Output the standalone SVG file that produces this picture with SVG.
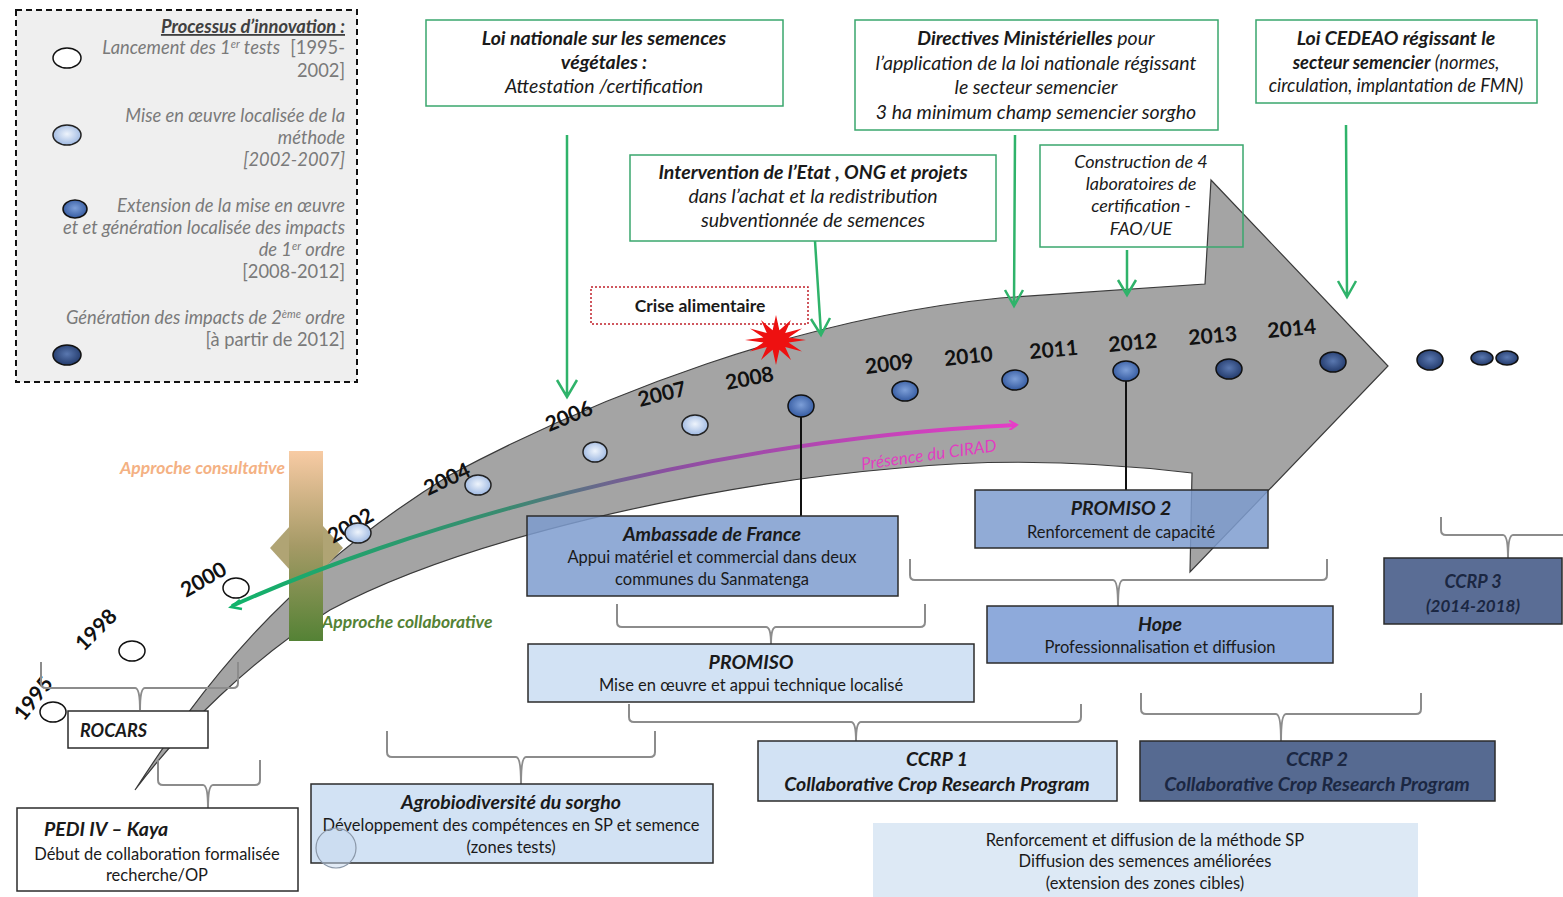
<svg xmlns="http://www.w3.org/2000/svg" width="1563" height="897" viewBox="0 0 1563 897">
<defs>
<style>
text{font-family:Lato,"Liberation Sans",sans-serif;}
.lg{font-size:18.3px;font-style:italic;fill:#7a7a7a;text-anchor:end;}
.lgn{font-size:18.3px;fill:#7a7a7a;text-anchor:end;}
.tb{fill:#fff;stroke:#3aa76d;stroke-width:1.5;}
.tt{font-size:19.5px;font-style:italic;fill:#1a1a1a;text-anchor:middle;}
.b{font-weight:bold;}
.yr{font-size:21px;font-weight:bold;fill:#111;}
.bx{stroke:#2b2b2b;stroke-width:1.5;}
.bt{font-size:16.5px;fill:#1a1a1a;text-anchor:middle;}
.bh{font-size:19.5px;font-weight:bold;font-style:italic;fill:#1a1a1a;text-anchor:middle;}
.br{fill:none;stroke:#8c8c8c;stroke-width:2;}
.ga{fill:none;stroke:#2fb36a;stroke-width:2.5;}
.d0{fill:#fff;stroke:#111;stroke-width:1.5;}
.d1{fill:url(#gl);stroke:#222;stroke-width:1.5;}
.d2{fill:url(#gm);stroke:#111;stroke-width:1.5;}
.d3{fill:url(#gd);stroke:#111;stroke-width:1.5;}
</style>
<radialGradient id="gl" cx="0.5" cy="0.45" r="0.6"><stop offset="0" stop-color="#eef4fc"/><stop offset="1" stop-color="#97b3df"/></radialGradient>
<radialGradient id="gm" cx="0.5" cy="0.45" r="0.6"><stop offset="0" stop-color="#7d9fd8"/><stop offset="1" stop-color="#2f559c"/></radialGradient>
<radialGradient id="gd" cx="0.5" cy="0.45" r="0.6"><stop offset="0" stop-color="#5a78b0"/><stop offset="1" stop-color="#1e3566"/></radialGradient>
<linearGradient id="gbar" x1="0" y1="0" x2="0" y2="1"><stop offset="0" stop-color="#f8cba4"/><stop offset="0.5" stop-color="#a59a66"/><stop offset="1" stop-color="#548235"/></linearGradient>
<linearGradient id="gcur" gradientUnits="userSpaceOnUse" x1="232" y1="0" x2="1020" y2="0"><stop offset="0" stop-color="#12b36b"/><stop offset="0.35" stop-color="#3a8a70"/><stop offset="0.55" stop-color="#8a4fa0"/><stop offset="1" stop-color="#e83cc8"/></linearGradient>
<marker id="mm" markerWidth="10" markerHeight="10" refX="7" refY="5" orient="auto" markerUnits="userSpaceOnUse" viewBox="0 0 10 10"><path d="M0,0 L8,5 L0,10" fill="none" stroke="#e83cc8" stroke-width="2"/></marker>
</defs>
<rect width="1563" height="897" fill="#fff"/>

<g id="legend">
<rect x="16" y="10" width="341" height="372" fill="#efefef" stroke="#111" stroke-width="2" stroke-dasharray="6,4"/>
<text x="345" y="33" class="lg b" style="fill:#404040;text-decoration:underline">Processus d’innovation :</text>
<text x="280" y="54" class="lg">Lancement des 1<tspan font-size="11" dy="-6">er</tspan><tspan dy="6"> tests</tspan></text>
<text x="345" y="54" class="lgn">[1995-</text>
<text x="345" y="77" class="lgn">2002]</text>
<ellipse cx="67" cy="58" rx="14" ry="10" class="d0"/>
<text x="345" y="122" class="lg">Mise en œuvre localisée de la</text>
<text x="345" y="144" class="lg">méthode</text>
<text x="345" y="166" class="lg">[2002-2007]</text>
<ellipse cx="67" cy="135" rx="14" ry="10" class="d1"/>
<text x="345" y="212" class="lg">Extension de la mise en œuvre</text>
<text x="345" y="234" class="lg">et  et génération localisée des impacts</text>
<text x="345" y="256" class="lg">de 1<tspan font-size="11" dy="-6">er</tspan><tspan dy="6"> ordre</tspan></text>
<text x="345" y="278" class="lgn">[2008-2012]</text>
<ellipse cx="75" cy="209" rx="12" ry="9" class="d2"/>
<text x="345" y="324" class="lg">Génération des impacts de 2<tspan font-size="11" dy="-6">ème</tspan><tspan dy="6"> ordre</tspan></text>
<text x="345" y="346" class="lgn">[à partir de 2012]</text>
<ellipse cx="67" cy="355" rx="14" ry="10" class="d3"/>
</g>

<g id="box-loi-nationale">
<rect x="426" y="20" width="357" height="86" class="tb"/>
<text x="604" y="45" class="tt b">Loi nationale sur les semences</text>
<text x="604" y="69" class="tt b">végétales :</text>
<text x="604" y="93" class="tt">Attestation /certification</text>
</g>
<g id="box-directives">
<rect x="855" y="20" width="363" height="110" class="tb"/>
<text x="1036" y="45" class="tt"><tspan class="b">Directives Ministérielles</tspan> pour</text>
<text x="1036" y="70" class="tt">l’application de la loi nationale régissant</text>
<text x="1036" y="94" class="tt">le secteur semencier</text>
<text x="1036" y="119" class="tt">3 ha minimum champ semencier sorgho</text>
</g>
<g id="box-cedeao">
<rect x="1256" y="20" width="281" height="83" class="tb"/>
<text x="1396" y="45" class="tt b">Loi CEDEAO régissant le</text>
<text x="1396" y="69" class="tt" style="font-size:18.3px"><tspan class="b">secteur semencier</tspan> (normes,</text>
<text x="1396" y="92" class="tt" style="font-size:18.3px">circulation, implantation de FMN)</text>
</g>
<g id="box-intervention">
<rect x="630" y="155" width="366" height="86" class="tb"/>
<text x="813" y="179" class="tt b">Intervention de l’Etat , ONG et projets</text>
<text x="813" y="203" class="tt">dans l’achat et la redistribution</text>
<text x="813" y="227" class="tt">subventionnée de semences</text>
</g>

<g id="big-arrow">
<path d="M135,790 C200,690 280,580 450,475 C600,395 800,318 1000,298 L1205,284 L1211,180 L1388,366 L1190,572 L1192,473 C1100,462 1000,458 900,468 C700,485 460,540 330,610 C250,660 180,730 135,790 Z" fill="#a4a4a4" stroke="#3a3a3a" stroke-width="1.2"/>
</g>

<g id="box-construction">
<rect x="1040" y="145" width="203" height="102" fill="none" stroke="#3aa76d" stroke-width="1.5"/>
<text x="1141" y="168" class="tt" style="font-size:18px">Construction de 4</text>
<text x="1141" y="190" class="tt" style="font-size:18px">laboratoires de</text>
<text x="1141" y="212" class="tt" style="font-size:18px">certification -</text>
<text x="1141" y="235" class="tt" style="font-size:18px">FAO/UE</text>
</g>

<g id="approche">
<polygon points="270,548 290,526 323,526 343,548 323,570 290,570" fill="#b0a474"/>
<rect x="289" y="451" width="34" height="190" fill="url(#gbar)"/>
<text x="120" y="474" style="font-size:17.5px;font-style:italic;font-weight:bold;fill:#f4b183">Approche  consultative</text>
<text x="322" y="628" style="font-size:17.5px;font-style:italic;font-weight:bold;fill:#548235">Approche  collaborative</text>
</g>

<g id="years">
<text class="yr" transform="translate(24,722) rotate(-52)">1995</text>
<text class="yr" transform="translate(84,652) rotate(-45)">1998</text>
<text class="yr" transform="translate(186,598) rotate(-30)">2000</text>
<text class="yr" transform="translate(333,544) rotate(-30)">2002</text>
<text class="yr" transform="translate(428,496) rotate(-25)">2004</text>
<text class="yr" transform="translate(549,432) rotate(-22)">2006</text>
<text class="yr" transform="translate(640,407) rotate(-14)">2007</text>
<text class="yr" transform="translate(727,390) rotate(-11)">2008</text>
<text class="yr" transform="translate(866,374) rotate(-7)">2009</text>
<text class="yr" transform="translate(945,366) rotate(-6)">2010</text>
<text class="yr" transform="translate(1030,359) rotate(-5)">2011</text>
<text class="yr" transform="translate(1109,352) rotate(-5)">2012</text>
<text class="yr" transform="translate(1189,345) rotate(-5)">2013</text>
<text class="yr" transform="translate(1268,338) rotate(-5)">2014</text>
</g>

<g id="dots">
<ellipse cx="53" cy="712" rx="13" ry="10" class="d0"/>
<ellipse cx="132" cy="651" rx="13" ry="10" class="d0"/>
<ellipse cx="236" cy="588" rx="13" ry="10" class="d0"/>
<ellipse cx="358" cy="533" rx="13" ry="10" class="d1"/>
<ellipse cx="478" cy="485" rx="13" ry="10" class="d1"/>
<ellipse cx="595" cy="452" rx="12" ry="10" class="d1"/>
<ellipse cx="695" cy="425" rx="13" ry="10" class="d1"/>
<ellipse cx="801" cy="406" rx="13" ry="11" class="d2"/>
<ellipse cx="905" cy="391" rx="13" ry="10" class="d2"/>
<ellipse cx="1015" cy="380" rx="13" ry="10" class="d2"/>
<ellipse cx="1126" cy="371" rx="13" ry="10" class="d2"/>
<ellipse cx="1229" cy="369" rx="13" ry="10" class="d3"/>
<ellipse cx="1333" cy="362" rx="13" ry="10" class="d3"/>
<ellipse cx="1430" cy="360" rx="13" ry="10" class="d3"/>
<ellipse cx="1482" cy="358" rx="11" ry="7" class="d3"/>
<ellipse cx="1507" cy="358" rx="11" ry="7" class="d3"/>
</g>

<g id="cirad">
<path d="M232,606 C400,530 700,440 1016,425" fill="none" stroke="url(#gcur)" stroke-width="4" marker-end="url(#mm)"/>
<path d="M240,600 L231,607 L242,609" fill="none" stroke="#12b36b" stroke-width="2.5"/>
<text transform="translate(862,470) rotate(-8)" style="font-size:17px;font-style:italic;fill:#e040c0">Présence du CIRAD</text>
</g>

<g id="crise">
<rect x="591" y="287" width="217" height="37" fill="#fff" stroke="#c0202a" stroke-width="1.5" stroke-dasharray="2,2"/>
<text x="700" y="312" style="font-size:17.5px;font-weight:bold;fill:#1a1a1a;text-anchor:middle">Crise alimentaire</text>
<polygon points="806,340 788.6,342.6 802,351.5 785.2,347.1 791,359.9 779.4,349.7 776,365 772.6,349.7 761,359.9 766.8,347.1 750,351.5 763.4,342.6 745,340 763.4,337.4 750,328.5 766.8,332.9 761,320.1 772.6,330.3 776,315 779.4,330.3 791,320.1 785.2,332.9 802,328.5 788.6,337.4" fill="#ee1111"/>
</g>

<g id="connectors">
<path class="ga" d="M567,135 L567,396 M557,380 L567,397 L577,380"/>
<path class="ga" d="M815,241 L821,334 M811,319 L821,335 L830,318"/>
<path class="ga" d="M1015,135 L1014,305 M1005,290 L1014,306 L1023,290"/>
<path class="ga" d="M1127,250 L1127,294 M1118,280 L1127,295 L1136,280"/>
<path class="ga" d="M1346,125 L1347,296 M1338,281 L1347,297 L1356,281"/>
<line x1="801" y1="417" x2="801" y2="516" stroke="#111" stroke-width="2"/>
<line x1="1126" y1="381" x2="1126" y2="490" stroke="#111" stroke-width="2"/>
<path class="br" d="M41,662 L41,683 Q41,688 46,688 L135,688 Q140,688 140,710 Q140,688 145,688 L233,688 Q238,688 238,683 L238,662"/>
<path class="br" d="M158,760 L158,780 Q158,785 163,785 L203,785 Q208,785 208,808 Q208,785 213,785 L255,785 Q260,785 260,780 L260,760"/>
<path class="br" d="M387,731 L387,752 Q387,757 392,757 L516,757 Q521,757 521,784 Q521,757 526,757 L650,757 Q655,757 655,752 L655,731"/>
<path class="br" d="M617,604 L617,622 Q617,627 622,627 L766,627 Q771,627 771,644 Q771,627 776,627 L920,627 Q925,627 925,622 L925,604"/>
<path class="br" d="M629,704 L629,717 Q629,722 634,722 L851,722 Q856,722 856,741 Q856,722 861,722 L1076,722 Q1081,722 1081,717 L1081,704"/>
<path class="br" d="M1141,693 L1141,709 Q1141,714 1146,714 L1276,714 Q1281,714 1281,741 Q1281,714 1286,714 L1416,714 Q1421,714 1421,709 L1421,693"/>
<path class="br" d="M910,559 L910,575 Q910,580 915,580 L1113,580 Q1118,580 1118,606 Q1118,580 1123,580 L1322,580 Q1327,580 1327,575 L1327,559"/>
<path class="br" d="M1441,517 L1441,530 Q1441,535 1446,535 L1503,535 Q1508,535 1508,558 Q1508,535 1513,535 L1563,535"/>
</g>

<g id="box-ambassade">
<rect x="527" y="516" width="371" height="80" class="bx" fill="#7e9ccf" fill-opacity="0.85"/>
<text x="712" y="541" class="bh">Ambassade  de France</text>
<text x="712" y="563" class="bt">Appui matériel et commercial dans deux</text>
<text x="712" y="585" class="bt">communes du Sanmatenga</text>
</g>
<g id="box-promiso2">
<rect x="975" y="490" width="293" height="58" class="bx" fill="#7e9ccf" fill-opacity="0.85"/>
<text x="1121" y="515" class="bh">PROMISO 2</text>
<text x="1121" y="538" class="bt">Renforcement  de capacité</text>
</g>
<g id="box-hope">
<rect x="987" y="606" width="346" height="57" class="bx" fill="#8eaadb"/>
<text x="1160" y="631" class="bh">Hope</text>
<text x="1160" y="653" class="bt">Professionnalisation  et diffusion</text>
</g>
<g id="box-ccrp3">
<rect x="1384" y="558" width="178" height="66" class="bx" fill="#5a6d95"/>
<text x="1473" y="588" class="bh" style="fill:#1b2742;font-size:18px">CCRP 3</text>
<text x="1473" y="612" class="bh" style="fill:#1b2742;font-size:17px">(2014-2018)</text>
</g>
<g id="box-promiso">
<rect x="528" y="644" width="446" height="58" class="bx" fill="#d2e2f4"/>
<text x="751" y="669" class="bh">PROMISO</text>
<text x="751" y="691" class="bt">Mise en œuvre et appui technique localisé</text>
</g>
<g id="box-ccrp1">
<rect x="758" y="741" width="359" height="60" class="bx" fill="#d2e2f4"/>
<text x="937" y="766" class="bh">CCRP 1</text>
<text x="937" y="791" class="bh">Collaborative  Crop  Research Program</text>
</g>
<g id="box-ccrp2">
<rect x="1140" y="741" width="355" height="60" class="bx" fill="#566a91"/>
<text x="1317" y="766" class="bh" style="fill:#1b2742">CCRP 2</text>
<text x="1317" y="791" class="bh" style="fill:#1b2742">Collaborative  Crop  Research Program</text>
</g>
<g id="box-renforcement">
<rect x="873" y="823" width="545" height="74" fill="#dde9f5"/>
<text x="1145" y="846" class="bt">Renforcement et diffusion  de la méthode SP</text>
<text x="1145" y="867" class="bt">Diffusion des semences améliorées</text>
<text x="1145" y="889" class="bt">(extension des zones cibles)</text>
</g>
<g id="box-agrobio">
<rect x="311" y="784" width="402" height="79" class="bx" fill="#d2e2f4"/>
<text x="511" y="809" class="bh">Agrobiodiversité du sorgho</text>
<text x="511" y="831" class="bt">Développement des compétences en SP et semence</text>
<text x="511" y="853" class="bt">(zones tests)</text>
<circle cx="336" cy="848" r="20" fill="#c5d7ee" fill-opacity="0.5" stroke="#8a97a8" stroke-width="1.2"/>
</g>
<g id="box-pedi">
<rect x="17" y="808" width="281" height="83" class="bx" fill="#fff"/>
<text x="44" y="836" class="bh" style="text-anchor:start">PEDI IV – Kaya</text>
<text x="157" y="860" class="bt">Début de collaboration formalisée</text>
<text x="157" y="881" class="bt">recherche/OP</text>
</g>
<g id="box-rocars">
<rect x="68" y="711" width="140" height="37" class="bx" fill="#fff"/>
<text x="80" y="737" class="bh" style="text-anchor:start;font-size:18px">ROCARS</text>
</g>
</svg>
